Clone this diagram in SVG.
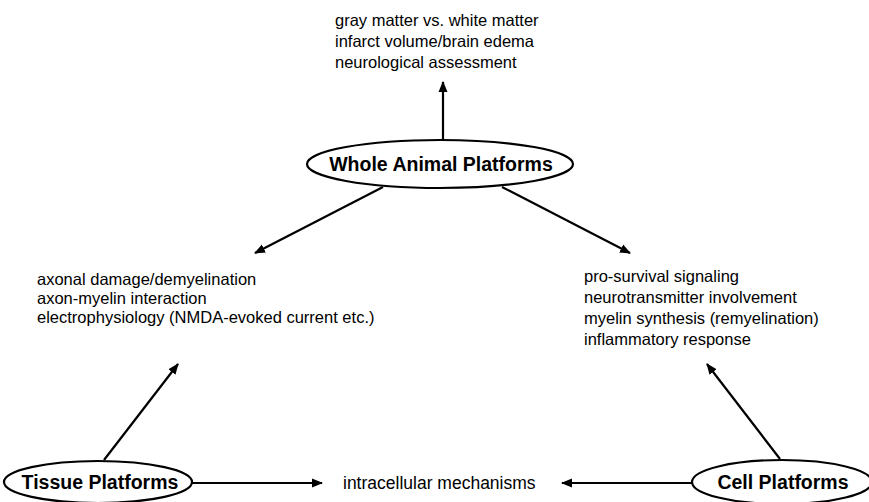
<svg xmlns="http://www.w3.org/2000/svg" width="869" height="502" viewBox="0 0 869 502">
<style>
.t{font-family:"Liberation Sans",Arial,sans-serif;font-size:16.5px;fill:#000}
.b{font-family:"Liberation Sans",Arial,sans-serif;font-size:19.5px;font-weight:bold;fill:#000;text-anchor:middle}
.e{fill:#fff;stroke:#000;stroke-width:2.2}
.c{stroke:#000;stroke-width:2.2;fill:none;marker-end:url(#ah)}
</style>
<defs>
<marker id="ah" markerUnits="userSpaceOnUse" markerWidth="12" markerHeight="10" refX="10" refY="5" orient="auto">
<path d="M0,0.5 L11,5 L0,9.5 Z" fill="#000"/>
</marker>
</defs>
<rect width="869" height="502" fill="#fff"/>
<g id="connectors">
<line class="c" x1="443" y1="140" x2="443" y2="82"/>
<line class="c" x1="383" y1="187" x2="255" y2="253"/>
<line class="c" x1="502" y1="187" x2="630" y2="253"/>
<line class="c" x1="104" y1="460" x2="178" y2="364"/>
<line class="c" x1="780" y1="459" x2="707" y2="364"/>
<line class="c" x1="191" y1="483" x2="322" y2="483"/>
<line class="c" x1="692" y1="483" x2="562" y2="483"/>
</g>
<g id="whole-animal">
<ellipse class="e" cx="440" cy="164" rx="133" ry="24"/>
<text class="b" x="441" y="171">Whole Animal Platforms</text>
</g>
<g id="tissue">
<ellipse class="e" cx="98" cy="482" rx="94" ry="21"/>
<text class="b" x="100" y="489">Tissue Platforms</text>
</g>
<g id="cell">
<ellipse class="e" cx="782" cy="482" rx="90" ry="22"/>
<text class="b" x="783" y="489">Cell Platforms</text>
</g>
<g id="whole-outcomes">
<text class="t" x="335" y="26">gray matter vs. white matter</text>
<text class="t" x="335" y="47">infarct volume/brain edema</text>
<text class="t" x="335" y="68">neurological assessment</text>
</g>
<g id="tissue-outcomes">
<text class="t" x="37" y="285">axonal damage/demyelination</text>
<text class="t" x="37" y="304">axon-myelin interaction</text>
<text class="t" x="37" y="323">electrophysiology (NMDA-evoked current etc.)</text>
</g>
<g id="cell-outcomes">
<text class="t" x="584" y="282">pro-survival signaling</text>
<text class="t" x="584" y="303">neurotransmitter involvement</text>
<text class="t" x="584" y="324">myelin synthesis (remyelination)</text>
<text class="t" x="584" y="345">inflammatory response</text>
</g>
<g id="intracellular">
<text class="t" x="343" y="489" style="font-size:17.5px">intracellular mechanisms</text>
</g>
</svg>
